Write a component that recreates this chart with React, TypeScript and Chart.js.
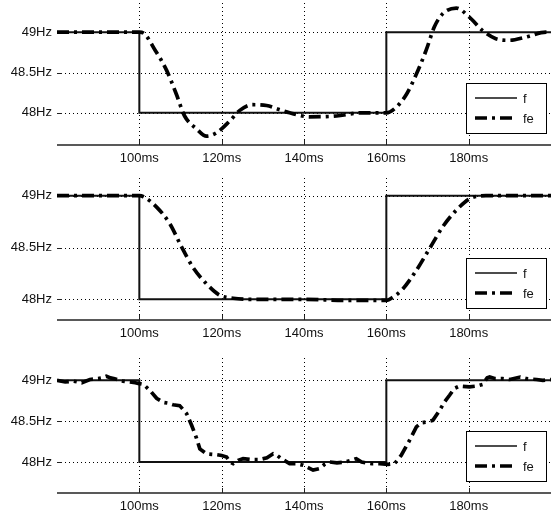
import React, { useEffect, useRef } from 'react';
import { Chart, registerables } from 'chart.js';

Chart.register(...registerables);

// ---------- data ----------
const X_MIN = 80;
const X_MAX = 200;
const xTickValues = [100, 120, 140, 160, 180];
const xTickLabels = ['100ms', '120ms', '140ms', '160ms', '180ms'];
const yTickValues = [48, 48.5, 49];
const yTickLabels = ['48Hz', '48.5Hz', '49Hz'];
const seriesNames = ['f', 'fe'];

// true frequency f (step)
const fTimes = [80, 100, 100, 160, 160, 200];
const fValues = [49, 49, 48, 48, 49, 49];

// estimate fe, panel 1 (oscillating)
const fe1Times = [80, 85, 90, 95, 100, 101, 103.8, 106.6, 109, 111, 113.9, 116.3, 118.7, 122, 124.4, 127.5, 130.9, 134, 136.5, 141.4, 147.9, 154, 160, 162.4, 164.9, 167.3, 169.7, 171.7, 173.7, 177, 180.1, 183.4, 186.6, 189.9, 193.9, 198.8, 200];
const fe1Values = [49, 49, 49, 49, 49, 48.99, 48.78, 48.53, 48.23, 47.96, 47.8, 47.71, 47.75, 47.9, 48.03, 48.1, 48.09, 48.04, 48.0, 47.95, 47.96, 48.0, 48.0, 48.07, 48.23, 48.48, 48.78, 49.07, 49.23, 49.3, 49.19, 49.02, 48.92, 48.9, 48.94, 49.0, 49.0];

// estimate fe, panel 2 (smooth)
const fe2Times = [80, 90, 100, 101, 104.2, 107.4, 110.2, 113, 116.3, 119.5, 122.8, 127, 140, 150, 160, 161.6, 164, 167.3, 170.5, 173.7, 177, 180.2, 184.2, 190, 200];
const fe2Values = [49, 49, 49, 48.99, 48.89, 48.73, 48.51, 48.31, 48.15, 48.04, 48.01, 48.0, 48.0, 47.99, 47.99, 48.02, 48.1, 48.28, 48.49, 48.7, 48.86, 48.97, 49.0, 49.0, 49.0];

// estimate fe, panel 3 (noisy)
const fe3Times = [80, 82, 84, 86, 88, 90, 91, 92, 93, 94, 96, 97.7, 99, 100, 101, 102.5, 104.2, 105.8, 107, 108.2, 109.8, 110.5, 111.5, 112.7, 113.9, 114.7, 116.3, 118.7, 120, 121.2, 122, 122.8, 124, 125.2, 127, 129.3, 131, 132.5, 133.5, 134.5, 136.5, 138, 139.8, 141, 142.2, 143.8, 145, 146.2, 148, 150, 151.5, 152.7, 154, 155, 156.5, 158.4, 160.4, 162, 163.6, 165.7, 167.3, 168.5, 169.7, 171.3, 172.9, 174.2, 175.4, 176.5, 177.8, 180.2, 182, 183.4, 184.5, 185.1, 186.5, 188.3, 190, 192.5, 194, 196.5, 198, 200];
const fe3Values = [49.0, 48.98, 48.99, 48.97, 49.01, 49.02, 49.03, 49.05, 49.03, 49.02, 48.99, 48.98, 48.97, 48.96, 48.95, 48.88, 48.78, 48.73, 48.72, 48.7, 48.69, 48.65, 48.59, 48.45, 48.29, 48.16, 48.1, 48.09, 48.08, 48.06, 48.0, 47.98, 48.02, 48.04, 48.03, 48.03, 48.05, 48.1, 48.08, 48.04, 47.98, 47.98, 47.96, 47.93, 47.9, 47.92, 47.97, 48.0, 47.99, 48.0, 48.02, 48.04, 48.0, 47.99, 47.98, 47.98, 47.97, 47.98, 48.08, 48.27, 48.43, 48.48, 48.49, 48.51, 48.63, 48.74, 48.82, 48.9, 48.93, 48.92, 48.93, 48.95, 49.03, 49.04, 49.02, 49.02, 49.01, 49.04, 49.02, 49.01, 49.0, 49.01];

// ---------- styling ----------
const FONT = { family: '"Liberation Sans", Arial, sans-serif', size: 13 };
const TEXT_COLOR = '#111';

type Panel = {
  top: number;
  height: number;
  xAxisHeight: number;
  yMin: number;
  yMax: number;
  times: number[];
  values: number[];
  smooth: boolean;
};

const panels: Panel[] = [
  { top: 0, height: 175, xAxisHeight: 30, yMin: 47.6, yMax: 49.4, times: fe1Times, values: fe1Values, smooth: true },
  { top: 175, height: 175, xAxisHeight: 30, yMin: 47.8, yMax: 49.2, times: fe2Times, values: fe2Values, smooth: true },
  { top: 355, height: 165, xAxisHeight: 27, yMin: 47.62, yMax: 49.31, times: fe3Times, values: fe3Values, smooth: false },
];

const toPoints = (t: number[], v: number[]) => t.map((x, i) => ({ x, y: v[i] }));

const axesPlugin = {
  id: 'matlabAxes',
  beforeDatasetsDraw(chart: any) {
    const { ctx, chartArea: a, scales } = chart;
    const x = scales.x;
    const y = scales.y;
    ctx.save();
    ctx.strokeStyle = '#000';
    ctx.lineWidth = 1;
    ctx.setLineDash([1, 3]);
    xTickValues.forEach((v) => {
      const px = Math.round(x.getPixelForValue(v)) + 0.5;
      ctx.beginPath();
      ctx.moveTo(px, a.top + 3);
      ctx.lineTo(px, a.bottom);
      ctx.stroke();
    });
    yTickValues.forEach((v) => {
      const py = Math.round(y.getPixelForValue(v)) + 0.5;
      ctx.beginPath();
      ctx.moveTo(a.left, py);
      ctx.lineTo(a.right, py);
      ctx.stroke();
    });
    ctx.setLineDash([]);
    ctx.strokeStyle = '#222';
    ctx.lineWidth = 1.5;
    ctx.beginPath();
    ctx.moveTo(a.left, a.bottom);
    ctx.lineTo(a.right, a.bottom);
    ctx.stroke();
    ctx.lineWidth = 1;
    xTickValues.forEach((v) => {
      const px = Math.round(x.getPixelForValue(v)) + 0.5;
      ctx.beginPath();
      ctx.moveTo(px, a.bottom);
      ctx.lineTo(px, a.bottom - 5);
      ctx.stroke();
    });
    yTickValues.forEach((v) => {
      const py = Math.round(y.getPixelForValue(v)) + 0.5;
      ctx.beginPath();
      ctx.moveTo(a.left, py);
      ctx.lineTo(a.left + 5, py);
      ctx.stroke();
    });
    ctx.restore();
  },
  afterDatasetsDraw(chart: any) {
    const { ctx, chartArea: a } = chart;
    const bw = 80;
    const bh = 50;
    const bx = Math.round(a.right - 85);
    const by = Math.round(a.bottom - 12 - bh);
    ctx.save();
    ctx.fillStyle = '#fff';
    ctx.fillRect(bx, by, bw, bh);
    ctx.strokeStyle = '#000';
    ctx.lineWidth = 1;
    ctx.setLineDash([]);
    ctx.strokeRect(bx + 0.5, by + 0.5, bw, bh);
    seriesNames.forEach((name, i) => {
      const ds = chart.data.datasets.find((d: any) => d.label === name);
      if (!ds) return;
      const ly = by + 15 + i * 20;
      ctx.beginPath();
      ctx.setLineDash(ds.borderDash || []);
      ctx.lineWidth = name === 'f' ? 1.5 : ds.borderWidth;
      ctx.strokeStyle = ds.borderColor;
      ctx.moveTo(bx + 9, ly);
      ctx.lineTo(bx + 51, ly);
      ctx.stroke();
      ctx.setLineDash([]);
      ctx.fillStyle = TEXT_COLOR;
      ctx.font = `${FONT.size}px ${FONT.family}`;
      ctx.textBaseline = 'middle';
      ctx.textAlign = 'left';
      ctx.fillText(ds.label, bx + 57, ly + 1);
    });
    ctx.restore();
  },
};

function SubPlot({ panel }: { panel: Panel }) {
  const ref = useRef<HTMLCanvasElement | null>(null);
  useEffect(() => {
    if (!ref.current) return;
    const chart = new Chart(ref.current, {
      type: 'line',
      data: {
        datasets: [
          {
            label: seriesNames[1],
            data: toPoints(panel.times, panel.values),
            borderColor: '#000',
            borderWidth: 3.7,
            borderDash: [12, 5, 3, 5],
            borderCapStyle: 'butt',
            pointRadius: 0,
            fill: false,
            cubicInterpolationMode: panel.smooth ? 'monotone' : 'default',
            tension: 0,
            order: 0,
          },
          {
            label: seriesNames[0],
            data: toPoints(fTimes, fValues),
            borderColor: '#111',
            borderWidth: 2,
            pointRadius: 0,
            fill: false,
            tension: 0,
            order: 1,
          },
        ],
      },
      options: {
        animation: false,
        responsive: false,
        events: [],
        layout: { padding: { left: 0, right: 0, top: 0, bottom: 0 } },
        plugins: { legend: { display: false }, tooltip: { enabled: false } },
        scales: {
          x: {
            type: 'linear',
            min: X_MIN,
            max: X_MAX,
            grid: { display: false, drawTicks: false },
            border: { display: false },
            afterBuildTicks: (s: any) => {
              s.ticks = xTickValues.map((v) => ({ value: v }));
            },
            afterFit: (s: any) => {
              s.height = panel.xAxisHeight;
              s.paddingLeft = 0;
              s.paddingRight = 0;
            },
            ticks: {
              autoSkip: false,
              maxRotation: 0,
              padding: 6,
              color: TEXT_COLOR,
              font: FONT,
              callback: (v: any) => {
                const i = xTickValues.indexOf(Number(v));
                return i >= 0 ? xTickLabels[i] : '';
              },
            },
          },
          y: {
            type: 'linear',
            min: panel.yMin,
            max: panel.yMax,
            grid: { display: false, drawTicks: false },
            border: { display: false },
            afterBuildTicks: (s: any) => {
              s.ticks = yTickValues.map((v) => ({ value: v }));
            },
            afterFit: (s: any) => {
              s.width = 57;
              s.paddingTop = 0;
              s.paddingBottom = 0;
            },
            ticks: {
              padding: 5,
              color: TEXT_COLOR,
              font: FONT,
              callback: (v: any) => {
                const i = yTickValues.indexOf(Number(v));
                return i >= 0 ? yTickLabels[i] : '';
              },
            },
          },
        },
      } as any,
      plugins: [axesPlugin],
    });
    return () => chart.destroy();
  }, [panel]);
  return (
    <canvas
      ref={ref}
      width={551}
      height={panel.height}
      style={{ position: 'absolute', left: 0, top: panel.top, width: 551, height: panel.height, display: 'block' }}
    />
  );
}

export default function App() {
  return (
    <div style={{ position: 'fixed', left: 0, top: 0, width: 551, height: 520, background: '#fff', overflow: 'hidden' }}>
      {panels.map((p, i) => (
        <SubPlot key={i} panel={p} />
      ))}
    </div>
  );
}
